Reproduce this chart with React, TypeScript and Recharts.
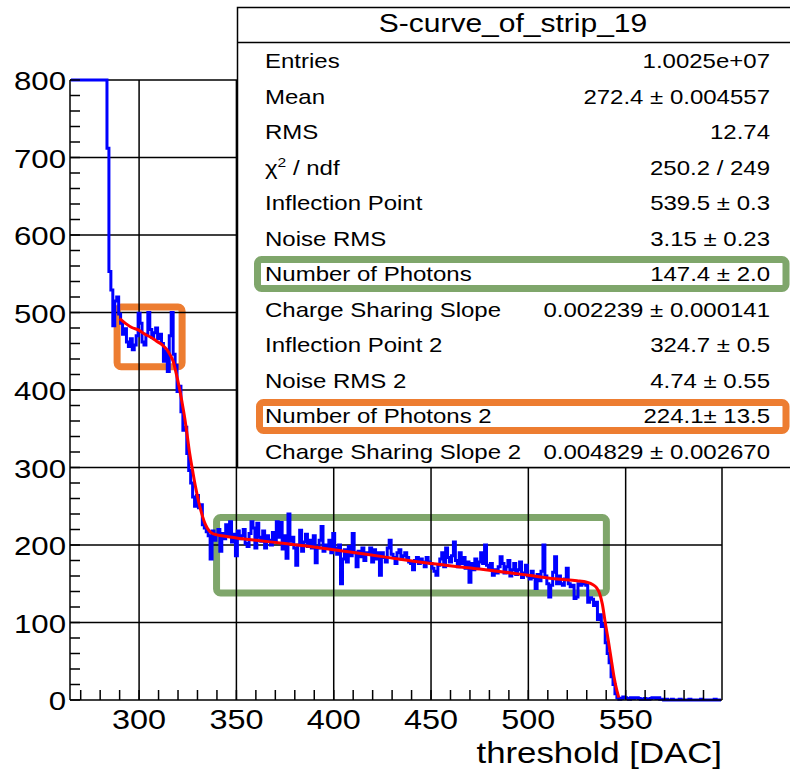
import React from 'react';
import {
  ComposedChart,
  Line,
  XAxis,
  YAxis,
  ReferenceLine,
  ReferenceArea,
} from 'recharts';

// Histogram: counts per threshold DAC bin, first bin centred on 265, 1 DAC wide
const FIRST_BIN = 265;
const counts = [
  // 265 - 283
  800, 800, 800, 800, 800, 800, 800, 800, 800, 800, 800, 800, 800, 800, 800, 800, 800, 800, 800,
  // 284 - 299
  712, 553, 529, 483, 515, 520, 498, 486, 472, 479, 462, 456, 466, 452, 458, 470,
  // 300 - 319
  499, 486, 462, 458, 472, 500, 478, 468, 474, 480, 466, 472, 460, 437, 450, 424, 470, 500, 446, 432,
  // 320 - 339
  398, 405, 372, 348, 352, 318, 296, 280, 262, 250, 264, 248, 252, 226, 222, 217, 212, 182, 218, 206,
  // 340 - 359
  214, 220, 192, 215, 208, 226, 212, 230, 204, 214, 186, 218, 208, 212, 220, 202, 198, 215, 230, 222,
  // 360 - 379
  196, 228, 210, 205, 218, 196, 212, 206, 200, 216, 204, 230, 210, 229, 195, 212, 183, 240, 205, 210,
  // 380 - 399
  196, 174, 200, 219, 192, 204, 214, 198, 206, 196, 212, 177, 196, 206, 224, 192, 200, 196, 206, 190,
  // 400 - 419
  215, 196, 188, 200, 150, 182, 194, 178, 198, 186, 215, 190, 172, 192, 185, 196, 180, 190, 188, 196,
  // 420 - 439
  178, 194, 182, 190, 161, 190, 184, 178, 196, 206, 188, 184, 176, 190, 194, 182, 186, 190, 184, 178,
  // 440 - 459
  176, 168, 180, 184, 176, 182, 178, 172, 184, 178, 176, 170, 166, 161, 174, 182, 190, 172, 196, 184,
  // 460 - 479
  178, 186, 204, 180, 172, 190, 176, 184, 170, 178, 152, 176, 168, 182, 172, 178, 190, 176, 200, 174,
  // 480 - 499
  170, 176, 161, 168, 164, 172, 185, 176, 164, 172, 180, 160, 168, 176, 162, 168, 178, 158, 164, 174,
  // 500 - 519
  160, 156, 166, 158, 144, 162, 154, 166, 200, 160, 150, 133, 148, 165, 185, 150, 160, 150, 148, 156,
  // 520 - 539
  170, 150, 146, 148, 131, 133, 150, 148, 152, 150, 148, 126, 132, 130, 122, 126, 104, 110, 95, 98,
  // 540 - 559
  74, 60, 48, 30, 20, 8, 3, 1, 2, 4, 3, 2, 1, 3, 2, 3, 3, 2, 1, 1,
  // 560 - 579
  2, 1, 1, 2, 3, 3, 2, 3, 1, 1, 0, 1, 0, 0, 1, 0, 0, 0, 1, 0,
  // 580 - 599
  0, 0, 0, 1, 0, 0, 0, 0, 0, 1, 0, 0, 0, 0, 0, 0, 1, 0, 0, 0,
];

// Fitted double S-curve, sampled along the threshold axis
const fitThreshold = [
  290, 293, 296, 300, 303, 306, 309, 312, 314, 316, 317.5, 319, 320.5, 322, 323.5, 324.7, 326,
  327.5, 329, 330.5, 332, 333.5, 335, 337, 340, 345, 350, 360, 375, 400, 425, 450, 475, 500,
  515, 525, 530, 533, 535, 536.5, 538, 539.5, 541, 542.5, 544, 545.5, 546.5,
];
const fitCounts = [
  492, 486, 481, 477, 472, 468, 463, 458, 453, 445, 437, 422, 405, 385, 363, 342, 318,
  296, 275, 257, 242, 230, 222, 216, 213, 211, 209, 206, 202, 194, 185, 176, 169, 161,
  156, 154, 152, 149, 145, 138, 124, 100, 78, 54, 30, 12, 3,
];

const xTicks = [
  270, 280, 290, 300, 310, 320, 330, 340, 350, 360, 370, 380, 390, 400, 410, 420, 430, 440,
  450, 460, 470, 480, 490, 500, 510, 520, 530, 540, 550, 560, 570, 580, 590,
];
const xLabels = [300, 350, 400, 450, 500, 550];
const yTicks = [
  0, 20, 40, 60, 80, 100, 120, 140, 160, 180, 200, 220, 240, 260, 280, 300, 320, 340, 360,
  380, 400, 420, 440, 460, 480, 500, 520, 540, 560, 580, 600, 620, 640, 660, 680, 700, 720,
  740, 760, 780, 800,
];
const yLabels = [0, 100, 200, 300, 400, 500, 600, 700, 800];

const X_MIN = 264.5;
const X_MAX = 599.5;
const Y_MAX = 800;

const statsTitle = 'S-curve_of_strip_19';
const statNames = [
  'Entries',
  'Mean',
  'RMS',
  'CHI2',
  'Inflection Point',
  'Noise RMS',
  'Number of Photons',
  'Charge Sharing Slope',
  'Inflection Point 2',
  'Noise RMS 2',
  'Number of Photons 2',
  'Charge Sharing Slope 2',
];
const statValues = [
  '1.0025e+07',
  '272.4 ± 0.004557',
  '12.74',
  '250.2 / 249',
  '539.5 ± 0.3',
  '3.15 ± 0.23',
  '147.4 ± 2.0',
  '0.002239 ± 0.000141',
  '324.7 ± 0.5',
  '4.74 ± 0.55',
  '224.1± 13.5',
  '0.004829 ± 0.002670',
];

// highlighted regions of the histogram: [x1, x2, y1, y2]
const plateauRegion = [339.8, 540.1, 138, 235.5];
const secondStepRegion = [288.7, 322.1, 430, 507];

const FONT = '"Liberation Sans", Arial, Helvetica, sans-serif';
const STRETCH = 1.2;
const GREEN = '#7fa66b';
const ORANGE = '#ed7d31';

const histData = counts.map((c, i) => ({ x: FIRST_BIN + i, y: c }));
const fitData = fitThreshold.map((t, i) => ({ x: t, y: fitCounts[i] }));

function WideText({
  x,
  y,
  size,
  anchor = 'start',
  children,
}: {
  x: number;
  y: number;
  size: number;
  anchor?: 'start' | 'middle' | 'end';
  children: React.ReactNode;
}) {
  return (
    <g transform={`translate(${x},${y}) scale(${STRETCH},1)`}>
      <text x={0} y={0} textAnchor={anchor} fontSize={size} fontFamily={FONT} fill="#000">
        {children}
      </text>
    </g>
  );
}

function XTick(props: any) {
  const { x, y, payload } = props;
  const v = payload.value;
  const labelled = xLabels.includes(v);
  return (
    <g>
      <line x1={x} y1={y} x2={x} y2={y - 10} stroke="#000" strokeWidth={1.5} />
      {labelled && (
        <WideText x={x} y={y + 29} size={27} anchor="middle">
          {v}
        </WideText>
      )}
    </g>
  );
}

function YTick(props: any) {
  const { x, y, payload } = props;
  const v = payload.value;
  const labelled = yLabels.includes(v);
  return (
    <g>
      <line x1={x} y1={y} x2={x + 10} y2={y} stroke="#000" strokeWidth={1.5} />
      {labelled && (
        <WideText x={x - 4} y={y + 10} size={26} anchor="end">
          {v}
        </WideText>
      )}
    </g>
  );
}

function roundedBox(color: string) {
  return (p: any) => (
    <rect
      x={p.x}
      y={p.y}
      width={p.width}
      height={p.height}
      rx={4}
      ry={4}
      fill="none"
      stroke={color}
      strokeWidth={7}
    />
  );
}

function StatsBox() {
  const rowTop = 61;
  const rowStep = 35.5;
  return (
    <svg
      width={790}
      height={773}
      style={{ position: 'absolute', left: 0, top: 0, pointerEvents: 'none' }}
    >
      <rect x={237.5} y={7.5} width={600} height={460} fill="#fff" stroke="#000" strokeWidth={1.5} />
      <line x1={237.5} y1={42.5} x2={790} y2={42.5} stroke="#000" strokeWidth={1.5} />
      <WideText x={513} y={32} size={25} anchor="middle">
        {statsTitle}
      </WideText>
      {statNames.map((name, i) => {
        const base = rowTop + i * rowStep + 7;
        return (
          <g key={name}>
            <WideText x={265} y={base} size={20}>
              {name === 'CHI2' ? (
                <>
                  <tspan>χ</tspan>
                  <tspan dy={-8} fontSize={13}>
                    2
                  </tspan>
                  <tspan dy={8}> / ndf</tspan>
                </>
              ) : (
                name
              )}
            </WideText>
            <WideText x={770} y={base} size={20} anchor="end">
              {statValues[i]}
            </WideText>
          </g>
        );
      })}
      <rect x={257.5} y={259.5} width={528.5} height={29} rx={4} fill="none" stroke={GREEN} strokeWidth={7} />
      <rect x={259.5} y={402.5} width={526.5} height={28} rx={4} fill="none" stroke={ORANGE} strokeWidth={7} />
    </svg>
  );
}

export default function App() {
  return (
    <div
      style={{
        position: 'absolute',
        left: 0,
        top: 0,
        width: 790,
        height: 773,
        background: '#fff',
        overflow: 'hidden',
      }}
    >
      <ComposedChart
        width={790}
        height={773}
        margin={{ top: 80, right: 68, bottom: 0, left: 8 }}
      >
        <XAxis
          type="number"
          dataKey="x"
          domain={[X_MIN, X_MAX]}
          ticks={xTicks}
          interval={0}
          height={73}
          tickSize={0}
          tickMargin={0}
          tickLine={false}
          axisLine={{ stroke: '#000', strokeWidth: 1.5 }}
          tick={(p: any) => <XTick {...p} />}
        />
        <YAxis
          type="number"
          domain={[0, Y_MAX]}
          ticks={yTicks}
          interval={0}
          width={62}
          tickSize={0}
          tickMargin={0}
          tickLine={false}
          axisLine={{ stroke: '#000', strokeWidth: 1.5 }}
          tick={(p: any) => <YTick {...p} />}
        />
        {xLabels.map((v) => (
          <ReferenceLine key={`gx${v}`} x={v} stroke="#000" strokeWidth={1.5} />
        ))}
        {yLabels.slice(1).map((v) => (
          <ReferenceLine key={`gy${v}`} y={v} stroke="#000" strokeWidth={1.5} />
        ))}
        <ReferenceLine x={X_MAX} stroke="#000" strokeWidth={1.5} />
        <Line
          data={histData}
          dataKey="y"
          type="step"
          stroke="#0000ff"
          strokeWidth={3}
          dot={false}
          isAnimationActive={false}
        />
        <Line
          data={fitData}
          dataKey="y"
          type="monotone"
          stroke="#ff0000"
          strokeWidth={3}
          dot={false}
          isAnimationActive={false}
        />
        <ReferenceArea
          x1={plateauRegion[0]}
          x2={plateauRegion[1]}
          y1={plateauRegion[2]}
          y2={plateauRegion[3]}
          shape={roundedBox(GREEN)}
        />
        <ReferenceArea
          x1={secondStepRegion[0]}
          x2={secondStepRegion[1]}
          y1={secondStepRegion[2]}
          y2={secondStepRegion[3]}
          shape={roundedBox(ORANGE)}
        />
      </ComposedChart>
      <StatsBox />
      <svg
        width={790}
        height={773}
        style={{ position: 'absolute', left: 0, top: 0, pointerEvents: 'none' }}
      >
        <WideText x={722} y={763} size={29} anchor="end">
          threshold [DAC]
        </WideText>
      </svg>
    </div>
  );
}
